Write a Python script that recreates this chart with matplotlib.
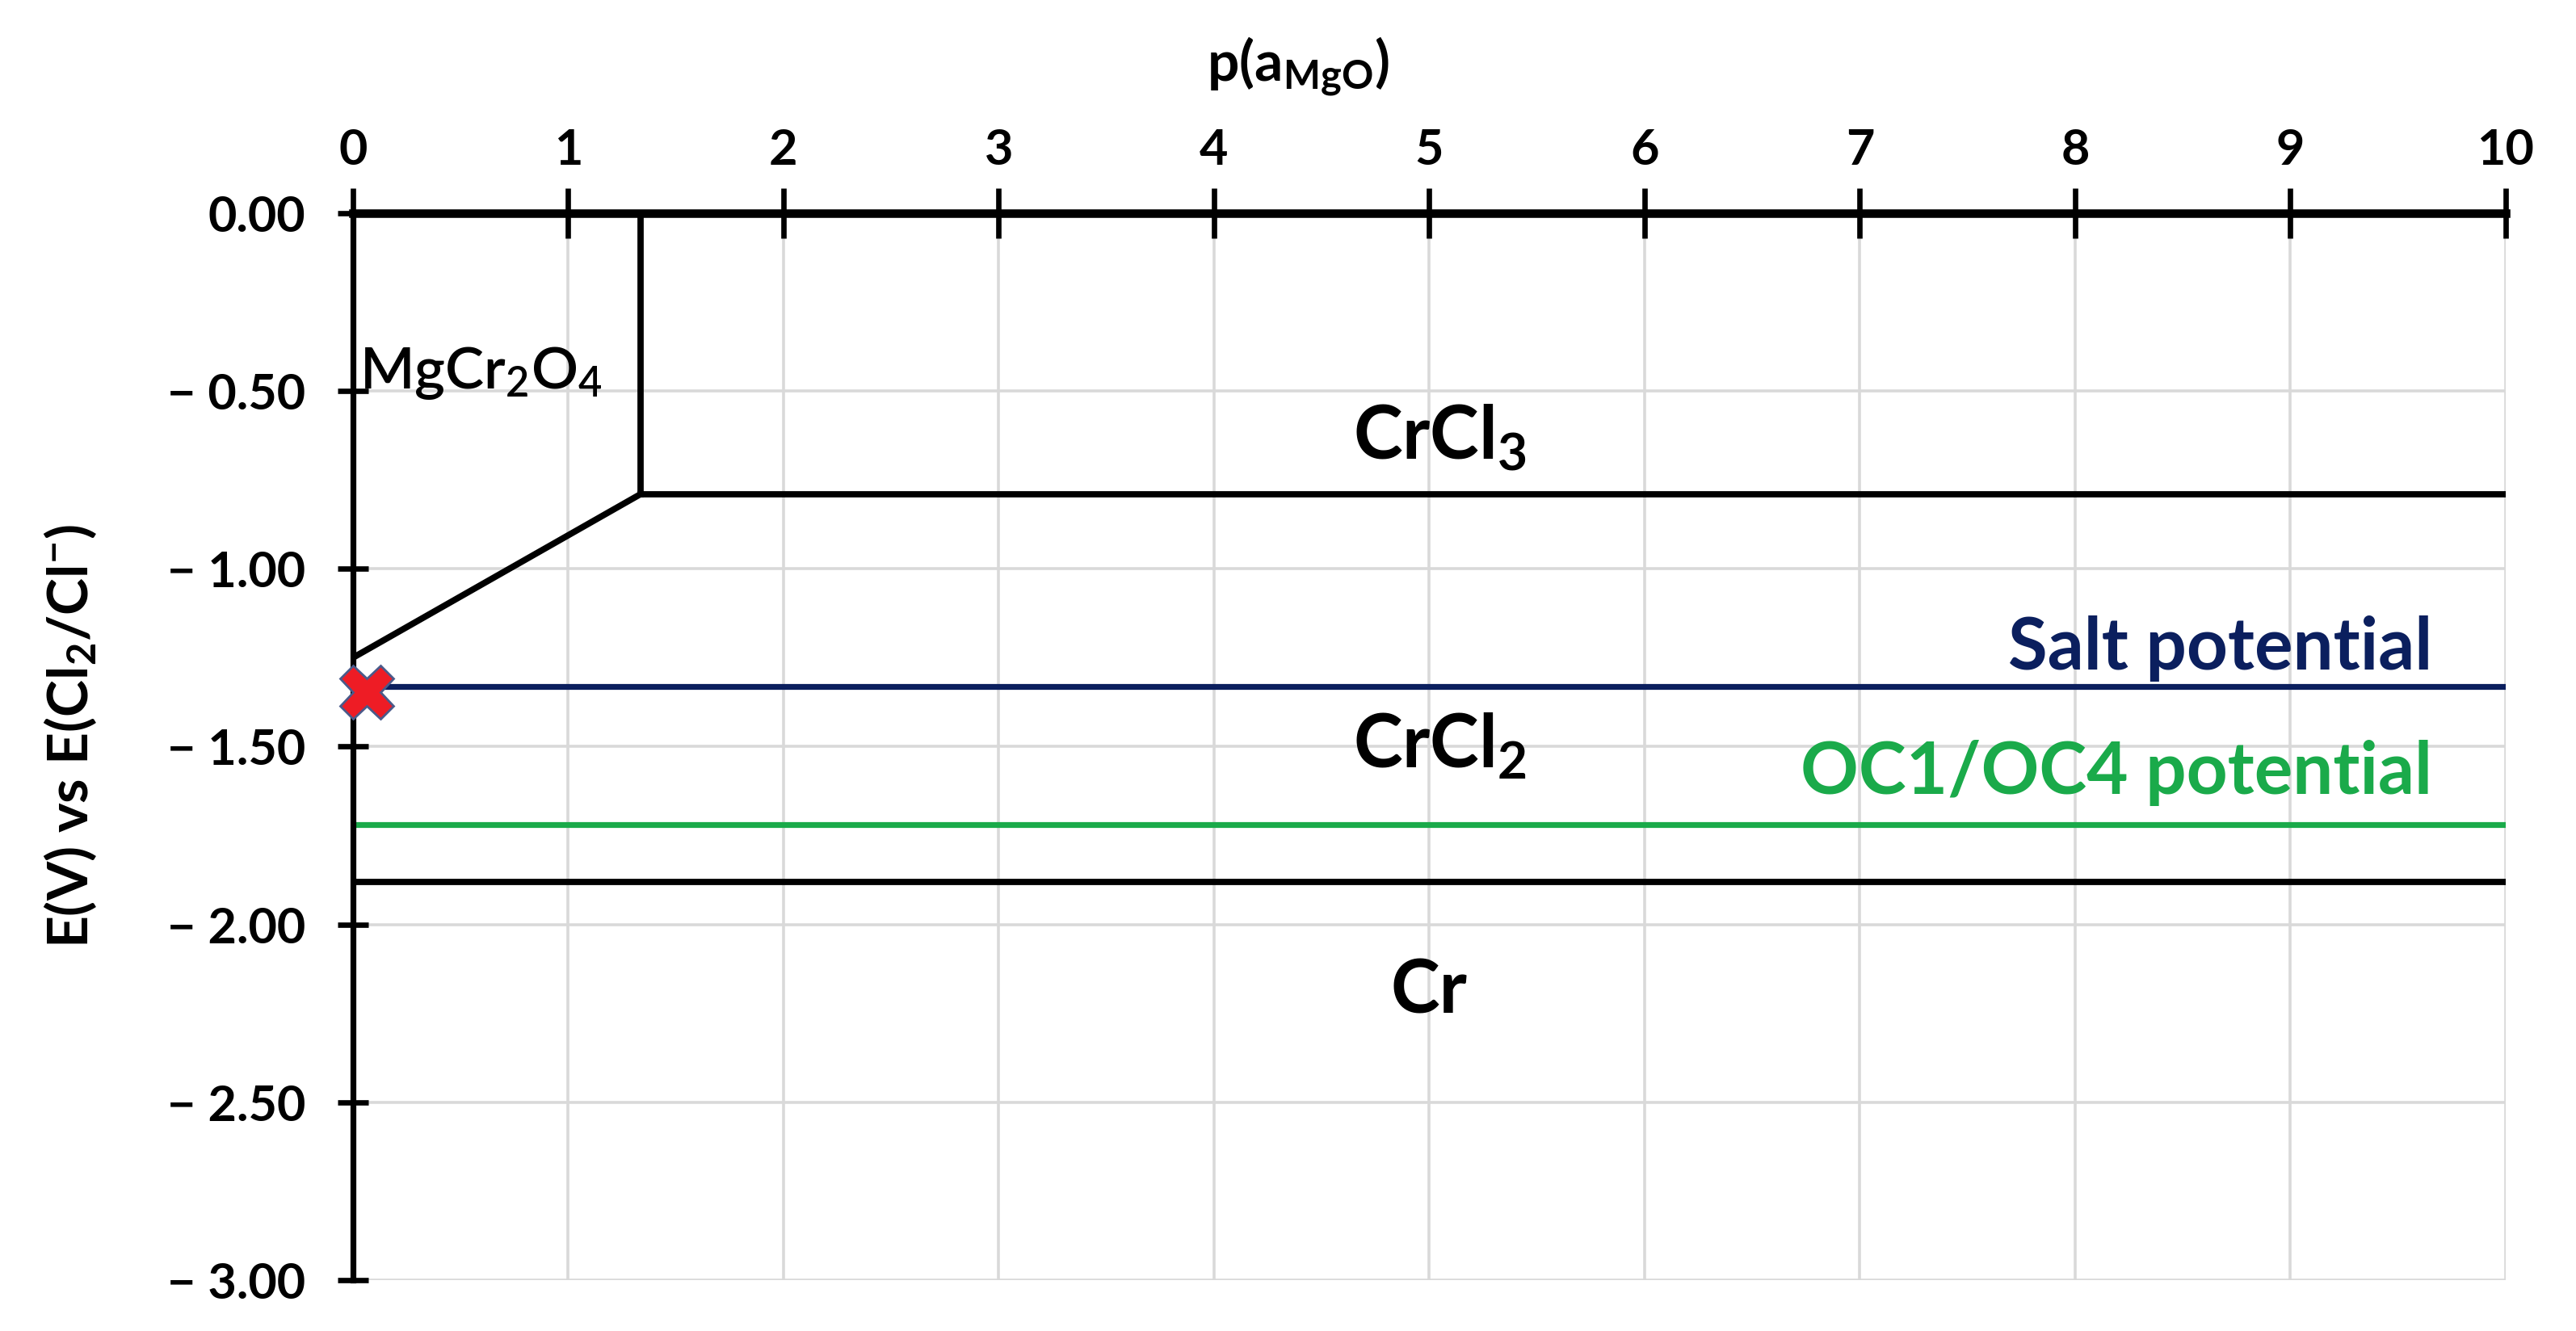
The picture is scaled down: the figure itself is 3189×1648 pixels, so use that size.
import matplotlib
matplotlib.use("Agg")
import matplotlib.pyplot as plt

plt.rcParams['font.family'] = ['Lato', 'DejaVu Sans']
plt.rcParams['mathtext.default'] = 'regular'

# ---- data ----
x_ticks = [0, 1, 2, 3, 4, 5, 6, 7, 8, 9, 10]
y_ticks = [0.0, -0.5, -1.0, -1.5, -2.0, -2.5, -3.0]
y_tick_labels = ["0.00", "\u2212 0.50", "\u2212 1.00", "\u2212 1.50", "\u2212 2.00", "\u2212 2.50", "\u2212 3.00"]

# phase boundaries
spinel_boundary_x = [1.336, 1.336]
spinel_boundary_y = [0.0, -0.79]
crcl3_crcl2_x = [1.336, 10]
crcl3_crcl2_y = [-0.79, -0.79]
spinel_crcl2_x = [0.0, 1.336]
spinel_crcl2_y = [-1.25, -0.79]
crcl2_cr_x = [0, 10]
crcl2_cr_y = [-1.88, -1.88]

# potentials
salt_x = [0, 10]
salt_y = [-1.33, -1.33]
oc_x = [0, 10]
oc_y = [-1.72, -1.72]

marker_x = [0.064]
marker_y = [-1.346]

BLUE = "#0b1f5e"
GREEN = "#1aaa4a"

fig = plt.figure(figsize=(15.945, 8.24), dpi=200)
ax = fig.add_axes([0.137, 0.0383, 0.8357, 0.8015])

ax.set_xlim(0, 10)
ax.set_ylim(-3.0, 0.0)

# grid
ax.set_xticks(x_ticks)
ax.set_yticks(y_ticks)
ax.grid(True, color="#d9d9d9", linewidth=1.3, zorder=0)
ax.set_axisbelow(True)

# spines
for s in ["right", "bottom"]:
    ax.spines[s].set_visible(False)
ax.spines["top"].set_linewidth(3.8)
ax.spines["left"].set_linewidth(2.6)
ax.spines["top"].set_zorder(5)
ax.spines["left"].set_zorder(5)

ax.xaxis.tick_top()
ax.xaxis.set_label_position("top")
ax.tick_params(axis="x", direction="inout", length=22, width=2.4, pad=7,
               labelsize=22, top=True, bottom=False)
ax.tick_params(axis="y", direction="inout", length=14, width=2.4, pad=14,
               labelsize=22)
ax.set_xticklabels([str(v) for v in x_ticks], fontweight="bold")
ax.set_yticklabels(y_tick_labels, fontweight="bold")

# phase lines
lw = 2.8
ax.plot(spinel_boundary_x, spinel_boundary_y, color="black", lw=lw, zorder=3)
ax.plot(crcl3_crcl2_x, crcl3_crcl2_y, color="black", lw=lw, zorder=3)
ax.plot(spinel_crcl2_x, spinel_crcl2_y, color="black", lw=lw, zorder=3)
ax.plot(crcl2_cr_x, crcl2_cr_y, color="black", lw=lw, zorder=3)
ax.plot(salt_x, salt_y, color=BLUE, lw=2.6, zorder=3)
ax.plot(oc_x, oc_y, color=GREEN, lw=2.6, zorder=3)

ax.plot(marker_x, marker_y, marker="X", markersize=24, color="#ee1c25",
        markeredgecolor="#4a5a8a", markeredgewidth=1.0, linestyle="none",
        zorder=6, clip_on=False)

# region labels
ax.text(0.03, -0.45, "MgCr$_2$O$_4$", fontsize=26, fontweight="semibold",
        va="center", ha="left", zorder=4)
ax.text(5.05, -0.63, "CrCl$_3$", fontsize=33, fontweight="bold", ha="center", va="center")
ax.text(5.05, -1.50, "CrCl$_2$", fontsize=33, fontweight="bold", ha="center", va="center")
ax.text(5.0, -2.19, "Cr", fontsize=33, fontweight="bold", ha="center", va="center")
ax.text(9.66, -1.225, "Salt potential", fontsize=32, fontweight="bold", color=BLUE,
        ha="right", va="center")
ax.text(9.66, -1.575, "OC1/OC4 potential", fontsize=32, fontweight="bold", color=GREEN,
        ha="right", va="center")

# axis titles
ax.set_xlabel("p(a$_{MgO}$)", fontsize=25, fontweight="bold")
ax.xaxis.set_label_coords(0.439, 1.125)
ax.set_ylabel("E(V) vs E(Cl$_2$/Cl$^{-}$)", fontsize=25, fontweight="bold")
ax.yaxis.set_label_coords(-0.118, 0.51)

fig.savefig("out.png", dpi=200, facecolor="white")
